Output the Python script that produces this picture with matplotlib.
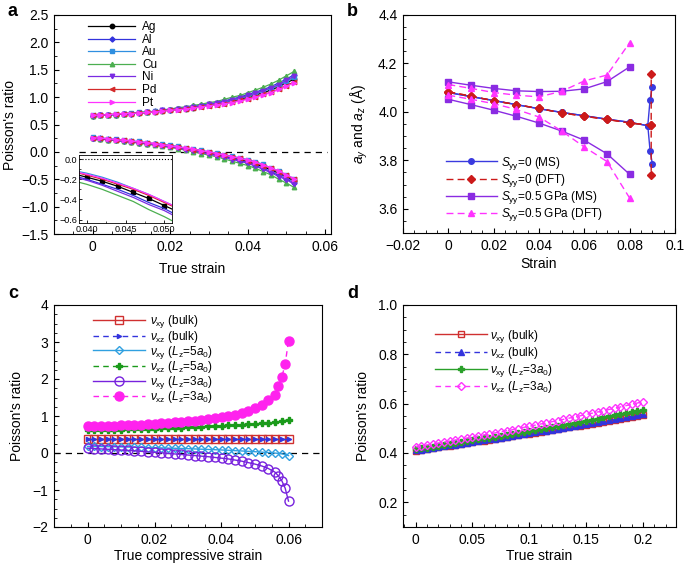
import matplotlib
matplotlib.use('Agg')
import matplotlib.pyplot as plt
from matplotlib.ticker import MultipleLocator, FuncFormatter, FixedLocator

plt.rcParams['font.family'] = ['Liberation Sans', 'DejaVu Sans']
plt.rcParams['mathtext.fontset'] = 'custom'
plt.rcParams['mathtext.rm'] = 'Liberation Sans'
plt.rcParams['mathtext.it'] = 'Liberation Sans:italic'
plt.rcParams['mathtext.bf'] = 'Liberation Sans:bold'
plt.rcParams['font.size'] = 10
plt.rcParams['axes.linewidth'] = 0.8

# ---------------- data: panel a ----------------
metals = ['Ag', 'Al', 'Au', 'Cu', 'Ni', 'Pd', 'Pt']
x_a = [0.000, 0.002, 0.004, 0.006, 0.008, 0.010, 0.012, 0.014, 0.016, 0.018,
       0.020, 0.022, 0.024, 0.026, 0.028, 0.030, 0.032, 0.034, 0.036, 0.038,
       0.040, 0.042, 0.044, 0.046, 0.048, 0.050, 0.052]
Ag_up = [0.66,0.67,0.68,0.68,0.69,0.70,0.71,0.72,0.73,0.75,0.76,0.78,0.79,0.81,0.83,0.85,0.87,0.90,0.93,0.96,1.00,1.04,1.08,1.13,1.19,1.26,1.33]
Al_up = [0.66,0.67,0.68,0.68,0.69,0.70,0.71,0.73,0.74,0.76,0.77,0.79,0.81,0.83,0.85,0.88,0.90,0.93,0.97,1.00,1.05,1.09,1.14,1.19,1.26,1.33,1.41]
Au_up = [0.67,0.68,0.68,0.69,0.70,0.71,0.72,0.73,0.74,0.76,0.77,0.79,0.80,0.82,0.84,0.86,0.88,0.91,0.94,0.98,1.02,1.06,1.11,1.16,1.22,1.29,1.36]
Cu_up = [0.66,0.67,0.68,0.68,0.69,0.71,0.72,0.73,0.74,0.77,0.78,0.81,0.82,0.85,0.87,0.90,0.92,0.96,1.00,1.03,1.08,1.13,1.18,1.24,1.31,1.39,1.47]
Ni_up = [0.66,0.67,0.68,0.68,0.69,0.70,0.71,0.72,0.73,0.76,0.77,0.79,0.80,0.82,0.84,0.87,0.89,0.92,0.95,0.99,1.03,1.07,1.12,1.17,1.23,1.31,1.38]
Pd_up = [0.67,0.67,0.68,0.69,0.70,0.70,0.71,0.72,0.73,0.75,0.76,0.77,0.79,0.80,0.82,0.84,0.86,0.88,0.91,0.94,0.97,1.01,1.05,1.09,1.15,1.21,1.28]
Pt_up = [0.67,0.67,0.68,0.69,0.70,0.70,0.71,0.72,0.73,0.74,0.76,0.77,0.78,0.80,0.82,0.84,0.86,0.88,0.90,0.93,0.96,1.00,1.04,1.08,1.14,1.20,1.26]
Ag_lo = [0.25,0.24,0.22,0.21,0.20,0.18,0.17,0.15,0.14,0.12,0.10,0.08,0.06,0.03,0.01,-0.02,-0.05,-0.08,-0.11,-0.14,-0.18,-0.22,-0.27,-0.33,-0.39,-0.46,-0.53]
Al_lo = [0.26,0.25,0.23,0.22,0.20,0.19,0.17,0.16,0.14,0.12,0.10,0.08,0.05,0.03,0.00,-0.03,-0.06,-0.09,-0.12,-0.16,-0.20,-0.25,-0.30,-0.36,-0.43,-0.49,-0.57]
Au_lo = [0.27,0.26,0.24,0.23,0.21,0.20,0.19,0.17,0.15,0.14,0.12,0.10,0.07,0.05,0.03,0.00,-0.02,-0.05,-0.08,-0.11,-0.14,-0.18,-0.23,-0.29,-0.35,-0.42,-0.49]
Cu_lo = [0.25,0.24,0.22,0.21,0.19,0.18,0.16,0.14,0.12,0.10,0.08,0.06,0.03,0.00,-0.03,-0.06,-0.09,-0.13,-0.17,-0.21,-0.25,-0.30,-0.36,-0.42,-0.50,-0.57,-0.65]
Ni_lo = [0.24,0.23,0.22,0.21,0.19,0.18,0.16,0.15,0.13,0.11,0.09,0.07,0.04,0.02,-0.01,-0.04,-0.07,-0.10,-0.14,-0.17,-0.21,-0.26,-0.32,-0.38,-0.45,-0.51,-0.59]
Pd_lo = [0.26,0.25,0.23,0.22,0.21,0.19,0.18,0.16,0.15,0.13,0.11,0.09,0.07,0.04,0.02,-0.01,-0.04,-0.06,-0.09,-0.12,-0.16,-0.20,-0.25,-0.30,-0.36,-0.43,-0.50]
Pt_lo = [0.26,0.25,0.24,0.22,0.21,0.20,0.18,0.17,0.15,0.13,0.11,0.09,0.07,0.05,0.02,0.00,-0.03,-0.06,-0.09,-0.12,-0.15,-0.19,-0.24,-0.29,-0.35,-0.42,-0.49]

# ---------------- data: panel b ----------------
x_b = [0.00, 0.01, 0.02, 0.03, 0.04, 0.05, 0.06, 0.07, 0.08]
x_b_ms_end = [0.088, 0.089, 0.090]
x_b_dft_end = [0.0895, 0.0895]
ms0_main = [4.080, 4.063, 4.047, 4.030, 4.013, 3.998, 3.984, 3.970, 3.957]
ms0_ay_end = [3.943, 4.051, 4.103]
ms0_az_end = [3.943, 3.840, 3.786]
dft0_main = [4.083, 4.065, 4.046, 4.030, 4.014, 3.996, 3.982, 3.969, 3.954]
dft0_ay_end = [3.945, 4.155]
dft0_az_end = [3.945, 3.738]
ms05_up = [4.124, 4.110, 4.097, 4.087, 4.084, 4.085, 4.095, 4.125, 4.186]
ms05_lo = [4.052, 4.030, 4.007, 3.982, 3.954, 3.921, 3.883, 3.827, 3.742]
dft05_up = [4.113, 4.097, 4.080, 4.069, 4.062, 4.085, 4.128, 4.152, 4.286]
dft05_lo = [4.069, 4.052, 4.034, 4.010, 3.979, 3.921, 3.855, 3.795, 3.644]

# ---------------- data: panel c ----------------
x_c = [0.000, 0.002, 0.004, 0.006, 0.008, 0.010, 0.012, 0.014, 0.016, 0.018,
       0.020, 0.022, 0.024, 0.026, 0.028, 0.030, 0.032, 0.034, 0.036, 0.038,
       0.040, 0.042, 0.044, 0.046, 0.048, 0.050, 0.052, 0.054, 0.056, 0.058, 0.060]
x_c3 = [0.000, 0.002, 0.004, 0.006, 0.008, 0.010, 0.012, 0.014, 0.016, 0.018,
        0.020, 0.022, 0.024, 0.026, 0.028, 0.030, 0.032, 0.034, 0.036, 0.038,
        0.040, 0.042, 0.044, 0.046, 0.048, 0.050, 0.052, 0.054, 0.056, 0.057,
        0.058, 0.059, 0.060]
vxy_bulk_c = [0.37,0.37,0.37,0.37,0.37,0.37,0.37,0.37,0.37,0.37,0.37,0.37,0.37,0.37,0.37,0.37,
              0.37,0.37,0.37,0.37,0.37,0.37,0.37,0.37,0.37,0.37,0.37,0.37,0.37,0.37,0.37]
vxz_bulk_c = [0.365,0.365,0.365,0.365,0.365,0.365,0.365,0.365,0.365,0.365,0.365,0.365,0.365,0.365,0.365,0.365,
              0.365,0.365,0.365,0.365,0.365,0.365,0.365,0.365,0.365,0.365,0.365,0.365,0.365,0.365,0.365]
vxy_5_c = [0.18,0.177,0.174,0.171,0.168,0.164,0.160,0.156,0.152,0.148,0.143,0.138,0.133,0.128,0.122,0.116,
           0.110,0.103,0.096,0.089,0.081,0.073,0.064,0.055,0.045,0.035,0.024,0.012,-0.002,-0.02,-0.07]
vxz_5_c = [0.61,0.614,0.618,0.623,0.628,0.633,0.638,0.644,0.650,0.656,0.662,0.668,0.675,0.682,0.689,0.696,
           0.704,0.712,0.720,0.729,0.738,0.747,0.757,0.767,0.778,0.790,0.803,0.817,0.833,0.852,0.905]
vxy_3_c = [0.13,0.12,0.11,0.10,0.09,0.08,0.07,0.06,0.045,0.03,0.02,0.005,-0.01,-0.025,-0.04,-0.055,-0.07,
           -0.085,-0.10,-0.12,-0.14,-0.16,-0.19,-0.22,-0.26,-0.30,-0.35,-0.42,-0.52,-0.62,-0.75,-0.95,-1.30]
vxz_3_c = [0.72,0.725,0.73,0.735,0.74,0.75,0.755,0.76,0.77,0.78,0.79,0.80,0.81,0.825,0.84,0.855,0.87,
           0.89,0.91,0.935,0.96,0.99,1.03,1.07,1.13,1.21,1.30,1.42,1.58,1.80,2.05,2.40,3.04]

# ---------------- data: panel d ----------------
x_d = [0.000,0.005,0.010,0.015,0.020,0.025,0.030,0.035,0.040,0.045,0.050,0.055,0.060,0.065,
       0.070,0.075,0.080,0.085,0.090,0.095,0.100,0.105,0.110,0.115,0.120,0.125,0.130,0.135,
       0.140,0.145,0.150,0.155,0.160,0.165,0.170,0.175,0.180,0.185,0.190,0.195,0.200]
vxy_bulk_d = [0.410,0.413,0.417,0.420,0.423,0.427,0.430,0.433,0.437,0.440,0.443,0.447,0.450,0.454,
              0.457,0.461,0.464,0.468,0.471,0.475,0.478,0.482,0.486,0.489,0.493,0.496,0.500,0.504,
              0.508,0.511,0.515,0.519,0.522,0.526,0.530,0.534,0.538,0.542,0.545,0.549,0.553]
vxz_bulk_d = [0.411,0.414,0.418,0.421,0.424,0.428,0.431,0.434,0.438,0.441,0.444,0.448,0.451,0.455,
              0.458,0.462,0.465,0.469,0.472,0.476,0.480,0.484,0.488,0.491,0.495,0.498,0.502,0.506,
              0.510,0.513,0.517,0.521,0.525,0.529,0.533,0.537,0.541,0.545,0.549,0.553,0.557]
vxy_3_d = [0.415,0.4185,0.4221,0.4256,0.4292,0.4328,0.4365,0.4401,0.4438,0.4475,0.4513,0.4550,
           0.4588,0.4626,0.4665,0.4703,0.4742,0.4781,0.4821,0.4860,0.4900,0.4940,0.4981,0.5021,
           0.5062,0.5103,0.5145,0.5186,0.5228,0.5270,0.5313,0.5355,0.5398,0.5441,0.5485,0.5528,
           0.5572,0.5616,0.5661,0.5705,0.5750]
vxz_3_d = [0.425,0.4288,0.4326,0.4364,0.4403,0.4443,0.4482,0.4523,0.4563,0.4604,0.4646,0.4687,
           0.4730,0.4772,0.4815,0.4859,0.4903,0.4947,0.4992,0.5037,0.5083,0.5128,0.5175,0.5222,
           0.5269,0.5316,0.5364,0.5413,0.5462,0.5511,0.5561,0.5611,0.5661,0.5712,0.5763,0.5815,
           0.5867,0.5920,0.5973,0.6026,0.6080]

# ---------------- layout ----------------
W, H = 685, 566
fig = plt.figure(figsize=(W / 100, H / 100), dpi=100)


def add_ax(l, r, t, b):
    return fig.add_axes([l / W, 1 - b / H, (r - l) / W, (b - t) / H])


def fmt_num(v, pos=None):
    if abs(v) < 1e-12:
        return '0'
    s = ('%.3f' % v).rstrip('0').rstrip('.')
    return s.replace('-', '\u2212')


def fmt1(v, pos=None):
    return ('%.1f' % v).replace('-', '\u2212')


def style(ax, xmaj, xmin, ymaj, ymin, xf=fmt_num, yf=fmt1):
    ax.xaxis.set_major_locator(MultipleLocator(xmaj))
    ax.xaxis.set_minor_locator(MultipleLocator(xmin))
    ax.yaxis.set_major_locator(MultipleLocator(ymaj))
    ax.yaxis.set_minor_locator(MultipleLocator(ymin))
    ax.xaxis.set_major_formatter(FuncFormatter(xf))
    ax.yaxis.set_major_formatter(FuncFormatter(yf))
    ax.tick_params(which='both', direction='in', top=False, right=False, labelsize=10)
    ax.tick_params(which='major', length=3.5, width=0.8, pad=4)
    ax.tick_params(which='minor', length=2, width=0.6)


axA = add_ax(54, 331, 15, 234)
axB = add_ax(403, 675, 15, 233)
axC = add_ax(54, 322, 305, 527)
axD = add_ax(403, 676, 305, 527)
axI = add_ax(79, 172, 155, 223)

# ---------------- panel a ----------------
colors_a = {'Ag': '#000000', 'Al': '#3333dd', 'Au': '#2f8fe0', 'Cu': '#4caf50',
            'Ni': '#7a2be2', 'Pd': '#d42a2a', 'Pt': '#ff33ff'}
markers_a = {'Ag': 'o', 'Al': 'D', 'Au': 's', 'Cu': '^', 'Ni': 'v', 'Pd': '<', 'Pt': '>'}
ups = {'Ag': Ag_up, 'Al': Al_up, 'Au': Au_up, 'Cu': Cu_up, 'Ni': Ni_up, 'Pd': Pd_up, 'Pt': Pt_up}
los = {'Ag': Ag_lo, 'Al': Al_lo, 'Au': Au_lo, 'Cu': Cu_lo, 'Ni': Ni_lo, 'Pd': Pd_lo, 'Pt': Pt_lo}

axA.axhline(0, xmin=0.09, xmax=0.985, color='k', ls=(0, (5, 4)), lw=0.9, zorder=1)
for m in metals:
    ms = 3.2 if markers_a[m] != 'D' else 2.6
    axA.plot(x_a, ups[m], color=colors_a[m], marker=markers_a[m], ms=ms, lw=0.9, label=m)
    axA.plot(x_a, los[m], color=colors_a[m], marker=markers_a[m], ms=ms, lw=0.9)
axA.set_xlim(-0.01, 0.0615)
axA.set_ylim(-1.5, 2.5)
style(axA, 0.02, 0.005, 0.5, 0.25)
axA.set_xlabel('True strain', labelpad=6)
axA.set_ylabel("Poisson's ratio", labelpad=3)
axA.legend(loc='upper left', bbox_to_anchor=(0.123, 0.972), frameon=False, fontsize=8.5,
           handlelength=4.0, handletextpad=0.6, labelspacing=0.05, borderpad=0, borderaxespad=0)

# inset
axI.set_facecolor('white')
axI.axhline(0, color='k', ls=':', lw=0.8)
for m in metals:
    axI.plot(x_a, los[m], color=colors_a[m], lw=0.9,
             marker=('s' if m == 'Ag' else None), ms=2.2)
axI.set_xlim(0.039, 0.051)
axI.set_ylim(-0.633, 0.04)
axI.xaxis.set_major_locator(FixedLocator([0.040, 0.045, 0.050]))
axI.xaxis.set_major_formatter(FuncFormatter(lambda v, p: '%.3f' % v))
axI.yaxis.set_major_locator(FixedLocator([0.0, -0.2, -0.4, -0.6]))
axI.yaxis.set_minor_locator(MultipleLocator(0.1))
axI.xaxis.set_minor_locator(MultipleLocator(0.0025))
axI.yaxis.set_major_formatter(FuncFormatter(fmt1))
axI.tick_params(which='both', direction='in', top=False, right=False, labelsize=6.5, pad=1.5)
axI.tick_params(which='major', length=2.5, width=0.6)
axI.tick_params(which='minor', length=1.5, width=0.5)
for s in axI.spines.values():
    s.set_linewidth(0.6)

# ---------------- panel b ----------------
c_blue, c_red, c_purp, c_mag = '#3a3adf', '#cc1a1a', '#8a2be2', '#ff33ff'
axB.plot(x_b + x_b_ms_end, ms0_main + ms0_ay_end, color=c_blue, marker='o', ms=4, lw=1,
         label=r'$S_{\rm yy}$=0 (MS)')
axB.plot(x_b + x_b_ms_end, ms0_main + ms0_az_end, color=c_blue, marker='o', ms=4, lw=1)
axB.plot(x_b + x_b_dft_end, dft0_main + dft0_ay_end, color=c_red, marker='D', ms=3.6, lw=1,
         ls=(0, (5, 3)), label=r'$S_{\rm yy}$=0 (DFT)')
axB.plot(x_b + x_b_dft_end, dft0_main + dft0_az_end, color=c_red, marker='D', ms=3.6, lw=1,
         ls=(0, (5, 3)))
axB.plot(x_b, ms05_up, color=c_purp, marker='s', ms=4, lw=1, label=r'$S_{\rm yy}$=0.5 GPa (MS)')
axB.plot(x_b, ms05_lo, color=c_purp, marker='s', ms=4, lw=1)
axB.plot(x_b, dft05_up, color=c_mag, marker='^', ms=4.5, lw=1, ls=(0, (5, 3)),
         label=r'$S_{\rm yy}$=0.5 GPa (DFT)')
axB.plot(x_b, dft05_lo, color=c_mag, marker='^', ms=4.5, lw=1, ls=(0, (5, 3)))
axB.set_xlim(-0.02, 0.1)
axB.set_ylim(3.5, 4.4)
style(axB, 0.02, 0.005, 0.2, 0.05)
axB.set_xlabel('Strain', labelpad=3)
axB.set_ylabel(r'$a_y$ and $a_z$ (Å)', labelpad=6)
axB.legend(loc='upper left', bbox_to_anchor=(0.158, 0.36), frameon=False, fontsize=8.5,
           handlelength=4.3, handletextpad=0.4, labelspacing=0.02, borderpad=0, borderaxespad=0)

# ---------------- panel c ----------------
axC.axhline(0, color='k', ls=(0, (5, 4)), lw=0.9, zorder=1)
axC.plot(x_c, vxy_bulk_c, color='#d03030', marker='s', ms=6, mfc='none', mew=1, lw=1,
         label=r'$\nu_{\rm xy}$ (bulk)')
axC.plot(x_c, vxz_bulk_c, color='#3333dd', marker='>', ms=3, lw=1, ls=(0, (4, 3)),
         label=r'$\nu_{\rm xz}$ (bulk)')
axC.plot(x_c, vxy_5_c, color='#30a0e0', marker='D', ms=4.2, mfc='none', mew=1, lw=1,
         label=r'$\nu_{\rm xy}$ ($L_{\rm z}$=5$a_0$)')
axC.plot(x_c, vxz_5_c, color='#1a9a1a', marker='P', ms=5, lw=1, ls=(0, (4, 3)),
         label=r'$\nu_{\rm xz}$ ($L_{\rm z}$=5$a_0$)')
axC.plot(x_c3, vxy_3_c, color='#7722dd', marker='o', ms=6.5, mfc='none', mew=1, lw=1,
         label=r'$\nu_{\rm xy}$ ($L_{\rm z}$=3$a_0$)')
axC.plot(x_c3, vxz_3_c, color='#ff22ee', marker='o', ms=6.5, lw=1, ls=(0, (4, 3)),
         label=r'$\nu_{\rm xz}$ ($L_{\rm z}$=3$a_0$)')
axC.set_xlim(-0.01, 0.07)
axC.set_ylim(-2, 4)
style(axC, 0.02, 0.005, 1, 0.25, yf=fmt_num)
axC.set_xlabel('True compressive strain', labelpad=2)
axC.set_ylabel("Poisson's ratio", labelpad=6)
axC.legend(loc='upper left', bbox_to_anchor=(0.146, 0.962), frameon=False, fontsize=8.5,
           handlelength=4.4, handletextpad=0.4, labelspacing=-0.12, borderpad=0, borderaxespad=0)

# ---------------- panel d ----------------
axD.plot(x_d, vxy_bulk_d, color='#d03030', marker='s', ms=5, mfc='none', mew=1, lw=1,
         label=r'$\nu_{\rm xy}$ (bulk)')
axD.plot(x_d, vxz_bulk_d, color='#3333dd', marker='^', ms=4, lw=1, ls=(0, (4, 3)),
         label=r'$\nu_{\rm xz}$ (bulk)')
axD.plot(x_d, vxy_3_d, color='#2aa02a', marker='P', ms=4.5, lw=1,
         label=r'$\nu_{\rm xy}$ ($L_{\rm z}$=3$a_0$)')
axD.plot(x_d, vxz_3_d, color='#ff33ff', marker='D', ms=4.5, mfc='none', mew=1, lw=1,
         ls=(0, (4, 3)), label=r'$\nu_{\rm xz}$ ($L_{\rm z}$=3$a_0$)')
axD.set_xlim(-0.011, 0.229)
axD.set_ylim(0.1, 1.0)
style(axD, 0.05, 0.01, 0.2, 0.05)
axD.set_xlabel('True strain', labelpad=2)
axD.set_ylabel("Poisson's ratio", labelpad=6)
axD.legend(loc='upper left', bbox_to_anchor=(0.117, 0.898), frameon=False, fontsize=8.5,
           handlelength=4.4, handletextpad=0.3, labelspacing=0.05, borderpad=0, borderaxespad=0)

# panel letters
for lab, px, py in [('a', 8, 12), ('b', 347, 12), ('c', 8, 293), ('d', 347, 293)]:
    fig.text(px / W, 1 - py / H, lab, fontsize=13, fontweight='bold', ha='left', va='center')

fig.savefig('out.png', dpi=100)
